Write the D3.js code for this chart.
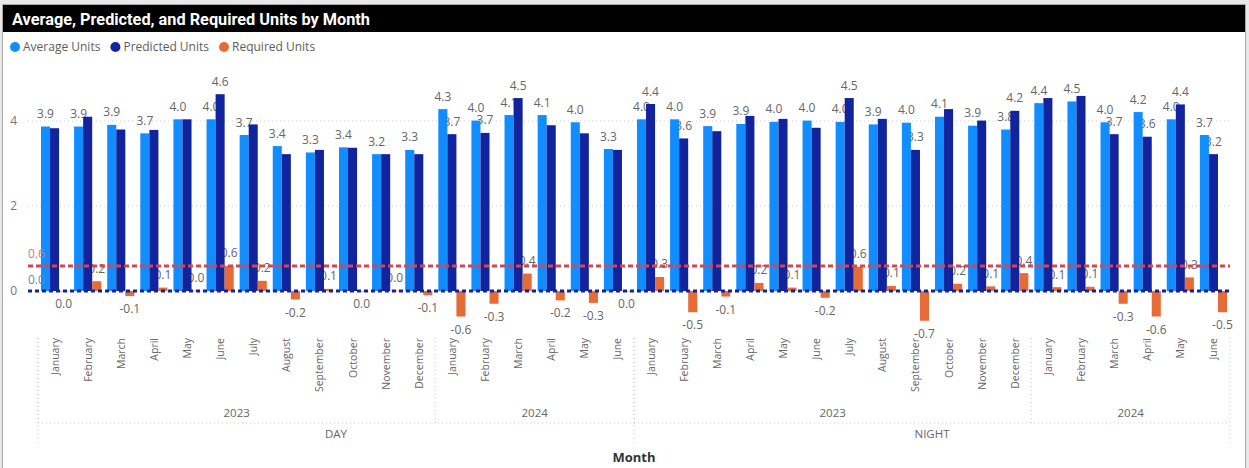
<!doctype html>
<html>
<head>
    <title>Average, Predicted, and Required Units by Month</title>
    <script src='https://d3js.org/d3.v7.min.js'></script>
    <style>
        body { margin: 0; background: #e8e8e8; }
        text { font-family: "Open Sans", "Noto Sans", sans-serif; }
    </style>
</head>
<body>
<svg width="1249" height="468"></svg>
<script>
    // ---- data ----
    var shifts = ["DAY", "NIGHT"];
    var years = { DAY: ["2023", "2024"], NIGHT: ["2023", "2024"] };
    var monthsFull = ["January", "February", "March", "April", "May", "June",
                      "July", "August", "September", "October", "November", "December"];
    var monthsHalf = ["January", "February", "March", "April", "May", "June"];

    // DAY 2023 (12), DAY 2024 (6), NIGHT 2023 (12), NIGHT 2024 (6)
    var averageUnits = [3.87, 3.87, 3.91, 3.71, 4.04, 4.04, 3.67, 3.41, 3.26, 3.38, 3.22, 3.32,
                        4.28, 4.01, 4.14, 4.14, 3.97, 3.34,
                        4.04, 4.04, 3.88, 3.93, 3.98, 4.01, 3.98, 3.92, 3.96, 4.10, 3.89, 3.80,
                        4.42, 4.46, 3.97, 4.21, 4.04, 3.67];
    var predictedUnits = [3.83, 4.10, 3.80, 3.79, 4.04, 4.63, 3.92, 3.22, 3.32, 3.37, 3.22, 3.22,
                          3.69, 3.72, 4.54, 3.90, 3.71, 3.32,
                          4.40, 3.59, 3.76, 4.12, 4.05, 3.84, 4.54, 4.05, 3.32, 4.28, 4.01, 4.24,
                          4.54, 4.59, 3.69, 3.63, 4.39, 3.22];
    var requiredUnits = [-0.01, 0.23, -0.12, 0.08, 0.01, 0.59, 0.24, -0.2, 0.05, -0.01, 0.01, -0.1,
                         -0.6, -0.3, 0.41, -0.22, -0.28, -0.01,
                         0.33, -0.5, -0.13, 0.19, 0.08, -0.16, 0.57, 0.12, -0.7, 0.17, 0.11, 0.42,
                         0.09, 0.1, -0.3, -0.6, 0.32, -0.5];
    var maxLine = 0.59;   // red dashed reference
    var minLine = 0.0;    // blue dashed reference
    var yTicks = [0, 2, 4];

    var seriesNames = ["Average Units", "Predicted Units", "Required Units"];
    var colors = ["#118DFF", "#12239E", "#E66C37"];

    // build category list
    var cats = [];
    shifts.forEach(function(s) {
        years[s].forEach(function(yr) {
            var ms = yr === "2023" ? monthsFull : monthsHalf;
            ms.forEach(function(m) { cats.push({ shift: s, year: yr, month: m, key: s + "|" + yr + "|" + m }); });
        });
    });
    var data = cats.map(function(c, i) {
        return { cat: c, values: [averageUnits[i], predictedUnits[i], requiredUnits[i]] };
    });

    var svg = d3.select("svg");

    // card frame + title bar
    svg.append("rect").attr("x", 2.5).attr("y", 4.5).attr("width", 1243).attr("height", 470)
        .attr("fill", "#fff").attr("stroke", "#a9a9a9");
    svg.append("rect").attr("x", 3).attr("y", 5).attr("width", 1242).attr("height", 27).attr("fill", "#000");
    svg.append("text").attr("x", 12).attr("y", 24.5)
        .attr("fill", "#fff").style("font-family", "Roboto, sans-serif").style("font-weight", "bold")
        .style("font-size", "16.3px").text("Average, Predicted, and Required Units by Month");

    // legend
    var lx = 15;
    seriesNames.forEach(function(n, i) {
        var g = svg.append("g").attr("transform", "translate(" + lx + ",47)");
        g.append("circle").attr("r", 5).attr("fill", colors[i]);
        var t = g.append("text").attr("x", 8).attr("y", 4.3).attr("fill", "#605E5C")
            .style("font-size", "12px").text(n);
        lx += 8 + t.node().getComputedTextLength() + 15;
    });

    // scales
    var x = d3.scaleBand().domain(cats.map(function(c) { return c.key; }))
        .range([38, 1230]).paddingInner(0.18).paddingOuter(0.09);
    var xs = d3.scaleBand().domain([0, 1, 2]).range([0, x.bandwidth()]);
    var y = d3.scaleLinear().domain([0, 4]).range([291, 121]);
    var step = x.step();

    // gridlines + y ticks
    svg.append("g").selectAll("line").data(yTicks.filter(function(d) { return d > 0; })).enter().append("line")
        .attr("x1", 28).attr("x2", 1230).attr("y1", function(d) { return y(d); }).attr("y2", function(d) { return y(d); })
        .attr("stroke", "#d0d0d0").attr("stroke-dasharray", "1,3");
    svg.append("g").selectAll("text").data(yTicks).enter().append("text")
        .attr("x", 17).attr("y", function(d) { return y(d) + 4; }).attr("text-anchor", "end")
        .attr("fill", "#777").style("font-size", "12px").text(function(d) { return d; });

    function fmt(v) { return Math.abs(v) < 0.05 ? "0.0" : v.toFixed(1); }

    // data labels (drawn under bars, like the reference)
    var labels = svg.append("g").style("font-size", "12px").attr("fill", "#666").attr("text-anchor", "middle");
    data.forEach(function(d) {
        var x0 = x(d.cat.key);
        var ya = y(d.values[0]), yp = y(d.values[1]);
        labels.append("text").attr("x", x0 + xs(0) + xs.bandwidth() / 2).attr("y", ya - 8.5).text(fmt(d.values[0]));
        if (Math.abs(ya - yp) >= 11.5) {
            labels.append("text").attr("x", x0 + xs(1) + xs.bandwidth() / 2).attr("y", yp - 8.5).text(fmt(d.values[1]));
        }
        var r = d.values[2];
        labels.append("text").attr("x", x0 + xs(2) + xs.bandwidth() / 2)
            .attr("y", r >= 0 ? y(r) - 8.5 : y(r) + 17).text(fmt(r));
    });

    // bars
    var groups = svg.append("g").selectAll("g").data(data).enter().append("g")
        .attr("transform", function(d) { return "translate(" + x(d.cat.key) + ",0)"; });
    groups.selectAll("rect").data(function(d) { return d.values; }).enter().append("rect")
        .attr("x", function(v, i) { return xs(i); })
        .attr("y", function(v) { return Math.min(y(v), y(0)); })
        .attr("width", xs.bandwidth())
        .attr("height", function(v) { return Math.max(0.5, Math.abs(y(v) - y(0))); })
        .attr("fill", function(v, i) { return colors[i]; });

    // reference lines
    svg.append("line").attr("x1", 28).attr("x2", 1230).attr("y1", y(maxLine)).attr("y2", y(maxLine))
        .attr("stroke", "#D64550").attr("stroke-width", 3).attr("stroke-dasharray", "5,3");
    svg.append("line").attr("x1", 28).attr("x2", 1230).attr("y1", y(minLine)).attr("y2", y(minLine))
        .attr("stroke", "#12239E").attr("stroke-width", 3).attr("stroke-dasharray", "4,3");
    svg.append("text").attr("x", 28).attr("y", y(maxLine) - 8).attr("fill", "#E0707C")
        .style("font-size", "12px").text(fmt(maxLine));
    svg.append("text").attr("x", 28).attr("y", y(minLine) - 7).attr("fill", "#7479C4")
        .style("font-size", "12px").text(fmt(minLine));

    // x axis: months
    svg.append("g").selectAll("text").data(cats).enter().append("text")
        .attr("transform", function(c) { return "translate(" + (x(c.key) + x.bandwidth() / 2 + 4) + ",338) rotate(-90)"; })
        .attr("text-anchor", "end").attr("fill", "#666").style("font-size", "10.5px")
        .text(function(c) { return c.month; });

    // hierarchy: years and shifts
    var axisG = svg.append("g").attr("stroke", "#d0d0d0").attr("stroke-dasharray", "1,3");
    var yearGroups = d3.groups(cats, function(c) { return c.shift + "|" + c.year; });
    var shiftGroups = d3.groups(cats, function(c) { return c.shift; });
    function span(list) {
        var a = x(list[0].key) - step * x.paddingInner() / 2;
        var b = x(list[list.length - 1].key) + x.bandwidth() + step * x.paddingInner() / 2;
        return [Math.max(38, a), Math.min(1230, b)];
    }
    yearGroups.forEach(function(g) {
        var s = span(g[1]);
        axisG.append("line").attr("x1", s[0]).attr("x2", s[0]).attr("y1", 338).attr("y2", 423);
        svg.append("text").attr("x", (s[0] + s[1]) / 2).attr("y", 417).attr("text-anchor", "middle")
            .attr("fill", "#666").style("font-size", "11.5px").text(g[1][0].year);
    });
    shiftGroups.forEach(function(g) {
        var s = span(g[1]);
        axisG.append("line").attr("x1", s[0]).attr("x2", s[0]).attr("y1", 338).attr("y2", 445);
        svg.append("text").attr("x", (s[0] + s[1]) / 2).attr("y", 438).attr("text-anchor", "middle")
            .attr("fill", "#666").style("font-size", "11.5px").text(g[0]);
    });
    axisG.append("line").attr("x1", 1230).attr("x2", 1230).attr("y1", 338).attr("y2", 445);
    axisG.append("line").attr("x1", 38).attr("x2", 1230).attr("y1", 423).attr("y2", 423);

    svg.append("text").attr("x", 634).attr("y", 462).attr("text-anchor", "middle")
        .attr("fill", "#333").style("font-weight", "bold").style("font-size", "13px").text("Month");
</script>
</body>
</html>
